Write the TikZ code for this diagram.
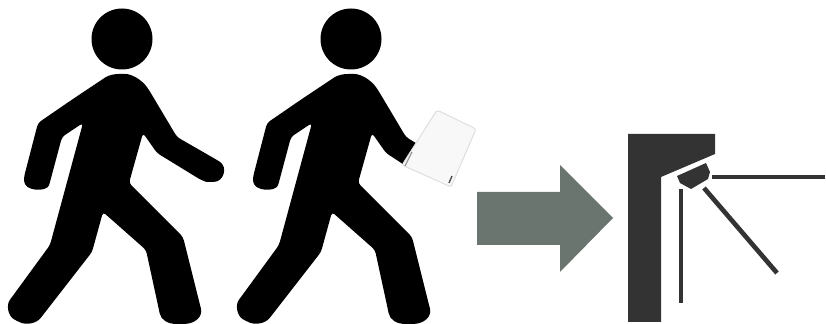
\documentclass[tikz,border=0pt]{standalone}
\tikzset{
  px/.style={x=0.75pt,y=-0.75pt},
  figure/.style={fill=black,draw=none,rounded corners=2.5pt},
  bar/.style={draw=gatedark,line width=3.5pt},
  gate/.style={fill=gatedark,draw=none},
}
\definecolor{gatedark}{HTML}{333333}
\definecolor{arrowgrey}{HTML}{6B7570}
\definecolor{cardedge}{HTML}{DDDDDD}
\definecolor{cardface}{HTML}{F8F8F8}
% #1 = path segment for the leading arm, from the shoulder to the armpit
\newcommand{\walker}[1]{%
  \fill[black] (122,39) circle (30.5);
  \fill[figure] (70,101) -- (103,79)
    .. controls (109,75) and (115,74) .. (122,74)
    .. controls (132,74) and (142,80) .. (149,90)
    #1
    -- (143,133) -- (129,183) -- (183,237)
    -- (200,305)
    .. controls (203,316) and (196,324) .. (180,324)
    .. controls (168,324) and (161,320) .. (159,310)
    -- (146,250) -- (103,212) -- (92,252)
    -- (43,315)
    .. controls (36,324) and (26,325) .. (17,321)
    .. controls (8,316) and (6,305) .. (12,297)
    -- (50,245) -- (83,123) -- (62,137) -- (50,182)
    .. controls (47,192) and (24,192) .. (24,177)
    -- (38,123) -- cycle;
}
\begin{document}
\begin{tikzpicture}[px]
  \useasboundingbox (0,0) rectangle (826,324);
  % first walker
  \walker{-- (177,137) -- (217,160)
    .. controls (228,167) and (224,182) .. (210,182)
    .. controls (206,182) and (204,181) .. (201,180)
    -- (157,153)}
  % second walker, hand behind the card
  \begin{scope}[xshift=171.75pt]
    \walker{-- (177,137) -- (190,145) -- (180,168) -- (157,153)}
  \end{scope}
  % card
  \fill[cardface,draw=cardedge,line width=0.7pt,rounded corners=1.5pt]
    (437,110) -- (476,129) -- (451,187) -- (402,165) -- cycle;
  \draw[black!40,line width=0.9pt] (405,166) -- (412,152);
  \draw[black!70,line width=1pt] (449,183) -- (452,176);
  % arrow
  \fill[arrowgrey] (477,192) -- (560,192) -- (560,165) -- (613,218)
    -- (560,272) -- (560,245) -- (477,245) -- cycle;
  % turnstile
  \fill[gate] (628,134) -- (715,134) -- (715,154) -- (661,177)
    -- (661,322) -- (628,322) -- cycle;
  \fill[gate] (677,176) -- (706,163) -- (710,172) -- (708,179)
    -- (691,189) -- (680,183) -- cycle;
  \draw[bar] (712,177) -- (825,177);
  \draw[bar] (681,189) -- (681,303);
  \draw[bar] (704,188) -- (777,273);
\end{tikzpicture}
\end{document}
